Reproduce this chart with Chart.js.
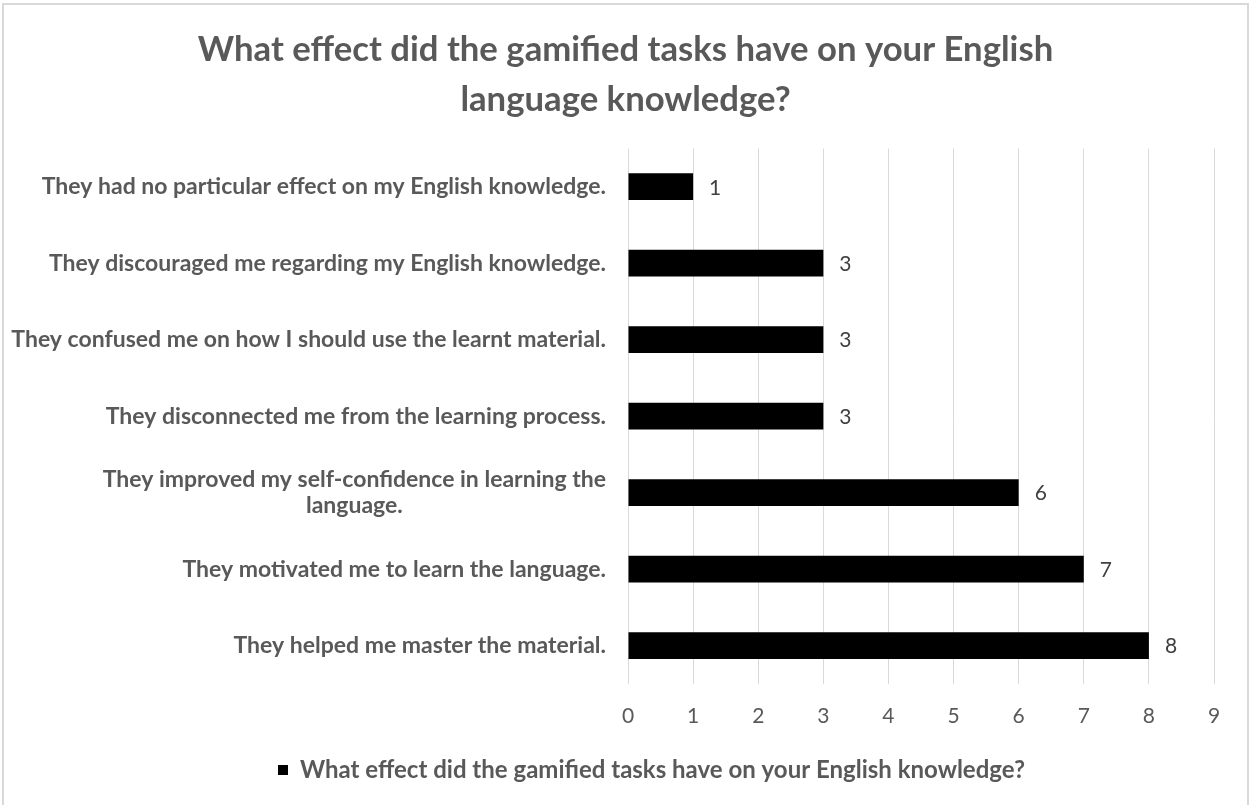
<!DOCTYPE html>
<html>
<head>
<meta charset="utf-8">
<title>Gamified tasks survey</title>
<script src="https://cdn.jsdelivr.net/npm/chart.js@4/dist/chart.umd.min.js"></script>
<style>
  html, body { margin: 0; padding: 0; background: #fff; }
  #chart { display: block; }
</style>
</head>
<body>
<canvas id="chart" width="1251" height="805"></canvas>
<script>
const answers = [
    ['They had no particular effect on my English knowledge.'],
    ['They discouraged me regarding my English knowledge.'],
    ['They confused me on how I should use the learnt material.'],
    ['They disconnected me from the learning process.'],
    ['They improved my self-confidence in learning the', 'language.'],
    ['They motivated me to learn the language.'],
    ['They helped me master the material.']
];
const counts = [1, 3, 3, 3, 6, 7, 8];
const seriesName = 'What effect did the gamified tasks have on your English knowledge?';
const titleLines = ['What effect did the gamified tasks have on your English', 'language knowledge?'];

const GREY_TEXT = '#595959';
const FONT = 'Lato, "Open Sans", sans-serif';

// light frame round the whole chart
const framePlugin = {
    id: 'frame',
    beforeDraw(chart) {
        const ctx = chart.ctx;
        ctx.save();
        ctx.strokeStyle = '#d9d9d9';
        ctx.lineWidth = 2;
        ctx.strokeRect(3, 4, chart.width - 6, chart.height + 4);
        ctx.restore();
    }
};

// legend sits a little right of centre
const legendOffset = {
    id: 'legendOffset',
    afterLayout(chart) {
        chart.legend.left += 26;
        chart.legend.right += 26;
    }
};

// category labels, multi-line ones centred on their widest line
const categoryLabels = {
    id: 'categoryLabels',
    afterDraw(chart) {
        const ctx = chart.ctx;
        const yScale = chart.scales.y;
        const right = yScale.right - 22;
        const lineH = 26;
        ctx.save();
        ctx.font = 'bold 23px ' + FONT;
        ctx.fillStyle = GREY_TEXT;
        ctx.textAlign = 'center';
        ctx.textBaseline = 'middle';
        answers.forEach((lines, i) => {
            const w = Math.max(...lines.map(l => ctx.measureText(l).width));
            const cx = right - w / 2;
            const cy = yScale.getPixelForTick(i);
            const y0 = cy - (lines.length - 1) * lineH / 2;
            lines.forEach((l, j) => ctx.fillText(l, cx, y0 + j * lineH));
        });
        ctx.restore();
    }
};

// value labels just past the end of each bar
const valueLabels = {
    id: 'valueLabels',
    afterDatasetsDraw(chart) {
        const ctx = chart.ctx;
        const meta = chart.getDatasetMeta(0);
        ctx.save();
        ctx.font = '21px ' + FONT;
        ctx.fillStyle = '#404040';
        ctx.textAlign = 'left';
        ctx.textBaseline = 'middle';
        meta.data.forEach((bar, i) => {
            ctx.fillText(String(counts[i]), bar.x + 16, bar.y + 1);
        });
        ctx.restore();
    }
};

new Chart(document.getElementById('chart').getContext('2d'), {
    type: 'bar',
    data: {
        labels: answers,
        datasets: [{
            label: seriesName,
            data: counts,
            backgroundColor: '#000000',
            borderWidth: 0,
            barPercentage: 0.35,
            categoryPercentage: 1
        }]
    },
    options: {
        indexAxis: 'y',
        responsive: false,
        animation: false,
        layout: { padding: { left: 37, right: 37, top: 0, bottom: 13 } },
        scales: {
            x: {
                min: 0,
                max: 9,
                ticks: {
                    stepSize: 1,
                    padding: 20,
                    color: GREY_TEXT,
                    font: { family: FONT, size: 21 }
                },
                grid: { color: '#d9d9d9', lineWidth: 1, drawTicks: false },
                border: { display: false }
            },
            y: {
                ticks: { display: false },
                grid: { display: false, drawTicks: false },
                border: { display: false },
                afterFit(scale) { scale.width = 591; }
            }
        },
        plugins: {
            title: {
                display: true,
                text: titleLines,
                color: GREY_TEXT,
                font: { family: FONT, size: 34.7, weight: 'bold', lineHeight: '50px' },
                padding: { top: 25, bottom: 23.5 }
            },
            legend: {
                display: true,
                position: 'bottom',
                labels: {
                    boxWidth: 10,
                    boxHeight: 10,
                    padding: 9,
                    color: GREY_TEXT,
                    font: { family: FONT, size: 24, weight: 'bold' }
                }
            },
            tooltip: { enabled: false }
        }
    },
    plugins: [framePlugin, legendOffset, categoryLabels, valueLabels]
});
</script>
</body>
</html>
